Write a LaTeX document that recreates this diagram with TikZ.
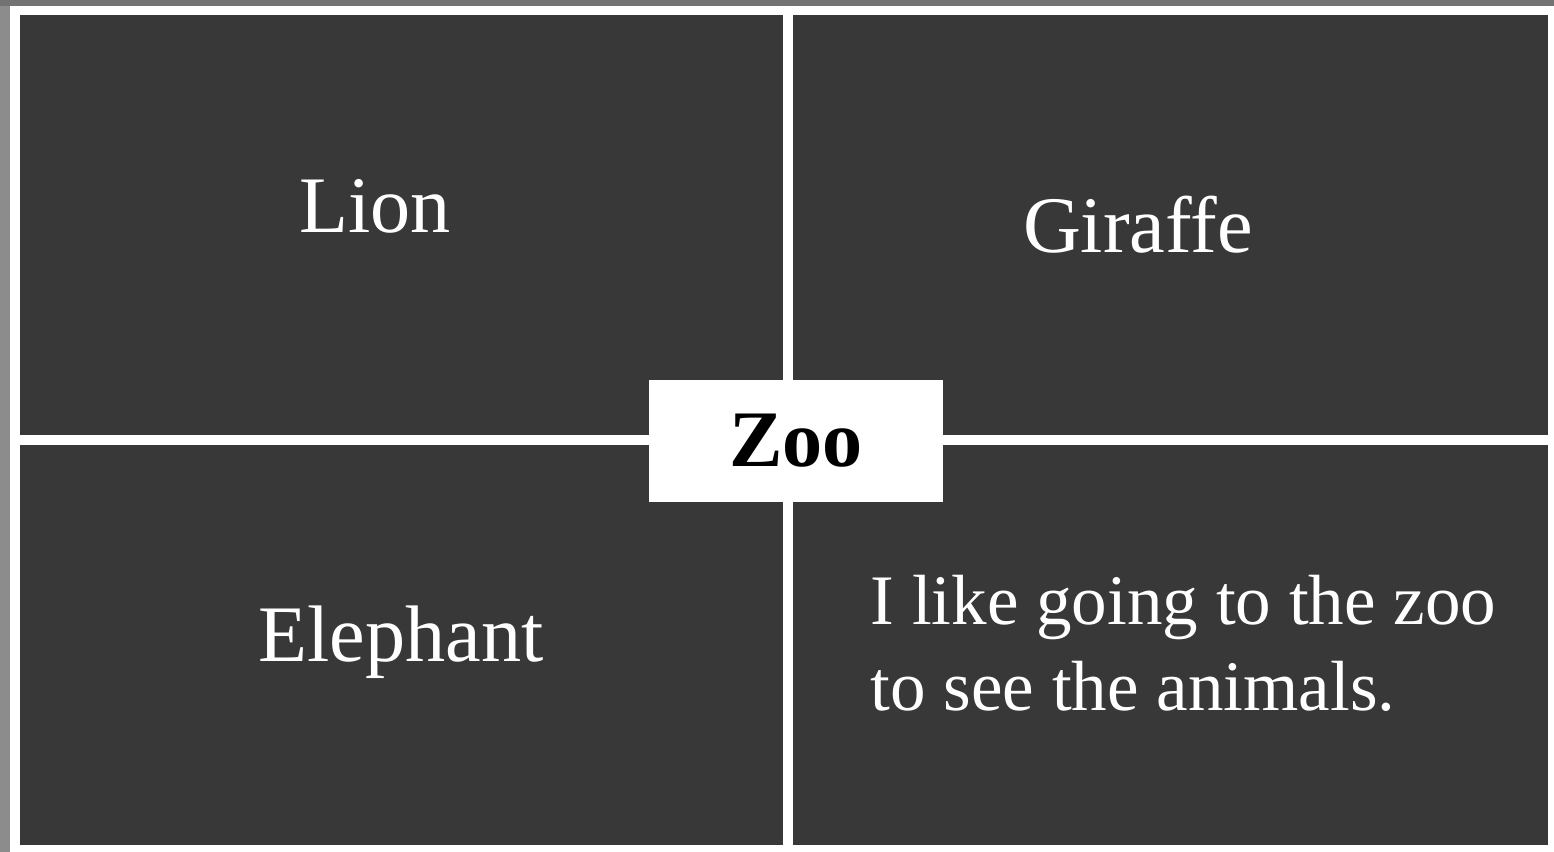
\documentclass[tikz,border=0pt]{standalone}
\usepackage{fontspec}
\setmainfont{Liberation Serif}
\usetikzlibrary{positioning}

\begin{document}
\begin{tikzpicture}[
  x=0.01cm,y=-0.01cm,
  panel/.style={fill=black!78,draw=none},
  word/.style={text=white,inner sep=0pt,anchor=base,font=\fontsize{22.8}{27}\selectfont},
  title/.style={fill=white,draw=none,minimum width=2.93cm,minimum height=1.22cm,inner sep=0pt,font=\fontsize{22.8}{27}\selectfont\bfseries}
]
\useasboundingbox (0,0) rectangle (1554,852);
\fill[white] (0,0) rectangle (1554,852);
% scanned edge
\fill[black!45] (0,0) rectangle (10,852);
\fill[black!55] (0,0) rectangle (1554,6);

% four panels
\fill[panel] (20,15) rectangle (783,435);
\fill[panel] (793,15) rectangle (1548,435);
\fill[panel] (20,445) rectangle (783,845);
\fill[panel] (793,445) rectangle (1548,845);

\node[word] (lion) at (375,233) {Lion};
\node[word] (giraffe) at (1138,253) {Giraffe};
\node[word] (elephant) at (401,662) {Elephant};
\node[word,anchor=base west,align=left,font=\fontsize{20.2}{24.2}\selectfont] (zootext) at (870,710) {I like going to the zoo\\to see the animals.};

\node[title] (zoo) at (796,441) {Zoo};
\end{tikzpicture}
\end{document}
